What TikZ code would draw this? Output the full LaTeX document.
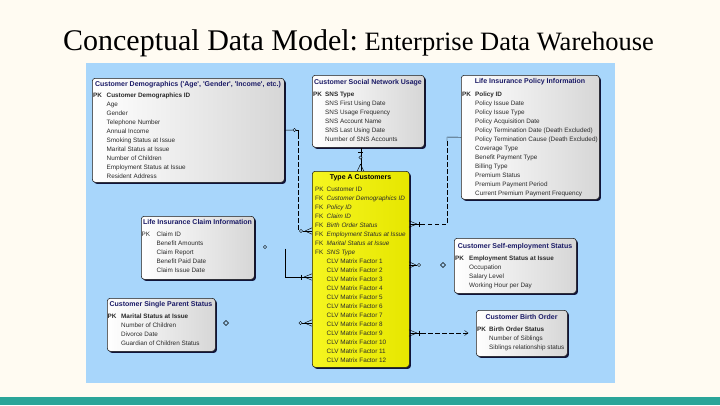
\documentclass[tikz,border=0pt]{standalone}
\usepackage{fontspec}
\setmainfont{Liberation Serif}
\newfontfamily\erfont{Liberation Sans}
\usetikzlibrary{shadows}
\definecolor{cream}{HTML}{FFFBF2}
\definecolor{panel}{HTML}{A8D6FB}
\definecolor{barteal}{HTML}{2AA599}
\definecolor{ttl}{HTML}{1A1A66}
\definecolor{bodyc}{HTML}{2A2A2A}
\definecolor{yelA}{HTML}{F6F620}
\definecolor{yelB}{HTML}{E6E600}
\begin{document}
\begin{tikzpicture}[x=1pt,y=-1pt,
 conn/.style={draw=black, line width=0.45pt},
 dsh/.style={dash pattern=on 4.5pt off 2.5pt},
 mk/.style={draw=black, line width=0.45pt, fill=panel},
 entity/.style={draw=black!90, line width=0.55pt, rounded corners=3pt, anchor=north west, inner sep=0pt,
   left color=white, right color=black!16,
   drop shadow={shadow xshift=1.6pt, shadow yshift=-1.6pt, fill=black!85!blue, opacity=0.9}},
 keyent/.style={entity, left color=yelA, right color=yelB},
 etitle/.style={anchor=base, inner sep=0pt, font=\erfont\bfseries\fontsize{7}{8}\selectfont, text=ttl},
 erows/.style={anchor=base west, inner sep=0pt, font=\erfont\fontsize{6.35}{9}\selectfont, text=bodyc, align=left}]
\useasboundingbox (0,0) rectangle (720,405);
\fill[cream] (0,0) rectangle (720,405);
\fill[barteal] (0,397) rectangle (720,405);
\fill[panel] (86,63) rectangle (615,383);
\node[anchor=base, inner sep=0pt] (title) at (358.5,50)
  {{\fontsize{30}{36}\selectfont Conceptual Data Model:}\fontsize{26.5}{32}\selectfont\ Enterprise Data Warehouse};

% ---------- entities ----------
\node[entity, minimum width=192pt, minimum height=104pt] (demo) at (92,78) {};
\node[etitle] (demo-t) at (188,86.5) {Customer Demographics (\textquotesingle Age\textquotesingle, \textquotesingle Gender\textquotesingle, \textquotesingle Income\textquotesingle, etc.)};
\node[erows] (demo-r) at (93,97) {\begin{tabular}[t]{@{}p{13.5pt}@{}l@{}}
\textbf{PK} & \textbf{Customer Demographics ID}\\
 & Age\\
 & Gender\\
 & Telephone Number\\
 & Annual Income\\
 & Smoking Status at Issue\\
 & Marital Status at Issue\\
 & Number of Children\\
 & Employment Status at Issue\\
 & Resident Address
\end{tabular}};

\node[entity, minimum width=112pt, minimum height=72pt] (sns) at (312,75) {};
\node[etitle] (sns-t) at (368,84.5) {Customer Social Network Usage};
\node[erows] (sns-r) at (313,96) {\begin{tabular}[t]{@{}p{12pt}@{}l@{}}
\textbf{PK} & \textbf{SNS Type}\\
 & SNS First Using Date\\
 & SNS Usage Frequency\\
 & SNS Account Name\\
 & SNS Last Using Date\\
 & Number of SNS Accounts
\end{tabular}};

\node[entity, minimum width=138pt, minimum height=124pt] (policy) at (461,75) {};
\node[etitle] (policy-t) at (530,83.5) {Life Insurance Policy Information};
\node[erows] (policy-r) at (462,96) {\begin{tabular}[t]{@{}p{13pt}@{}l@{}}
\textbf{PK} & \textbf{Policy ID}\\
 & Policy Issue Date\\
 & Policy Issue Type\\
 & Policy Acquisition Date\\
 & Policy Termination Date (Death Excluded)\\
 & Policy Termination Cause (Death Excluded)\\
 & Coverage Type\\
 & Benefit Payment Type\\
 & Billing Type\\
 & Premium Status\\
 & Premium Payment Period\\
 & Current Premium Payment Frequency
\end{tabular}};

\node[keyent, minimum width=97pt, minimum height=196pt] (typeA) at (312,171) {};
\node[etitle, text=black] (typeA-t) at (360.5,179.5) {Type A Customers};
\node[erows] (typeA-r) at (315,191) {\begin{tabular}[t]{@{}p{11.5pt}@{}l@{}}
PK & Customer ID\\
FK & \textit{Customer Demographics ID}\\
FK & \textit{Policy ID}\\
FK & \textit{Claim ID}\\
FK & \textit{Birth Order Status}\\
FK & \textit{Employment Status at Issue}\\
FK & \textit{Marital Status at Issue}\\
FK & \textit{SNS Type}\\
 & CLV Matrix Factor 1\\
 & CLV Matrix Factor 2\\
 & CLV Matrix Factor 3\\
 & CLV Matrix Factor 4\\
 & CLV Matrix Factor 5\\
 & CLV Matrix Factor 6\\
 & CLV Matrix Factor 7\\
 & CLV Matrix Factor 8\\
 & CLV Matrix Factor 9\\
 & CLV Matrix Factor 10\\
 & CLV Matrix Factor 11\\
 & CLV Matrix Factor 12
\end{tabular}};

\node[entity, minimum width=113pt, minimum height=63pt] (claim) at (141,216) {};
\node[etitle] (claim-t) at (197.5,224.5) {Life Insurance Claim Information};
\node[erows] (claim-r) at (141.5,236) {\begin{tabular}[t]{@{}p{15pt}@{}l@{}}
PK & Claim ID\\
 & Benefit Amounts\\
 & Claim Report\\
 & Benefit Paid Date\\
 & Claim Issue Date
\end{tabular}};

\node[entity, minimum width=122pt, minimum height=55pt] (selfemp) at (454,238) {};
\node[etitle] (selfemp-t) at (515,248.5) {Customer Self-employment Status};
\node[erows] (selfemp-r) at (455,260) {\begin{tabular}[t]{@{}p{14pt}@{}l@{}}
\textbf{PK} & \textbf{Employment Status at Issue}\\
 & Occupation\\
 & Salary Level\\
 & Working Hour per Day
\end{tabular}};

\node[entity, minimum width=108pt, minimum height=53pt] (single) at (107,298) {};
\node[etitle] (single-t) at (161,306.5) {Customer Single Parent Status};
\node[erows] (single-r) at (107.5,318) {\begin{tabular}[t]{@{}p{13.5pt}@{}l@{}}
\textbf{PK} & \textbf{Marital Status at Issue}\\
 & Number of Children\\
 & Divorce Date\\
 & Guardian of Children Status
\end{tabular}};

\node[entity, minimum width=91pt, minimum height=46pt] (birth) at (476,310) {};
\node[etitle] (birth-t) at (521.5,319.5) {Customer Birth Order};
\node[erows] (birth-r) at (477,331) {\begin{tabular}[t]{@{}p{12pt}@{}l@{}}
\textbf{PK} & \textbf{Birth Order Status}\\
 & Number of Siblings\\
 & Siblings relationship status
\end{tabular}};

% ---------- connectors ----------
% demographics -> type A
\coordinate (a1) at (298.5,130);
\coordinate (a2) at (298.5,231);
\draw[conn] (demo.east) -- (292.9,130);
\draw[mk] (294.5,130) circle[radius=1.6];
\draw[conn] (296.1,130) -- (a1) -- (298.5,134);
\draw[conn,dsh] (298.5,134) -- (a2);
\draw[mk] (301,231) circle[radius=1.6];
\draw[conn] (302.6,231) -- (typeA.west |- a2);
\draw[conn] (305,231) -- (312,227.8) (305,231) -- (312,234.2);

% social network -> type A
\draw[conn] (typeA.north |- sns.south) -- (typeA.north);
\draw[conn] (358,152.5) -- (363,152.5);
\draw[mk] (360.5,157.5) circle[radius=1.6];
\draw[conn] (360.5,164) -- (357.3,171) (360.5,164) -- (363.7,171);

% policy -> type A
\coordinate (c1) at (447,137);
\coordinate (c2) at (447,224);
\draw[conn] (policy.west) -- (c1) -- (447,141);
\draw[conn,dsh] (447,141) -- (c2) -- (421,224);
\draw[conn] (421,224) -- (typeA.east |- c2);
\draw[conn] (417,224) -- (409,220.8) (417,224) -- (409,227.2);
\draw[conn] (419.5,221.5) -- (419.5,226.5);

% claim -> type A
\draw[mk] (265,247) circle[radius=1.6];
\coordinate (d1) at (285,248.5);
\coordinate (d2) at (285,277);
\draw[conn] (d1) -- (d2) -- (typeA.west |- d2);
\draw[conn] (301,274.5) -- (301,279.5);
\draw[conn] (304,277) -- (312,273.8) (304,277) -- (312,280.2);

% self-employment -> type A (markers)
\draw[conn] (409,265) -- (417.4,265);
\draw[conn] (416,265) -- (409,261.8) (416,265) -- (409,268.2);
\draw[mk] (419,265) circle[radius=1.6];
\draw[mk] (443,262.5) -- (445.5,265) -- (443,267.5) -- (440.5,265) -- cycle;

% single parent -> type A (markers)
\draw[mk] (226,320.5) -- (228.5,323) -- (226,325.5) -- (223.5,323) -- cycle;
\draw[mk] (300.5,323) circle[radius=1.6];
\draw[conn] (302.1,323) -- (typeA.west |- 0,323);
\draw[conn] (304.5,323) -- (312,319.8) (304.5,323) -- (312,326.2);

% birth order -> type A
\coordinate (g1) at (468,333);
\draw[conn] (typeA.east |- g1) -- (421,333);
\draw[conn,dsh] (421,333) -- (g1);
\draw[conn] (417,333) -- (409,329.8) (417,333) -- (409,336.2);
\draw[conn] (419.5,330.5) -- (419.5,335.5);
\draw[conn] (464.5,330.5) -- (g1) -- (464.5,335.5);
\end{tikzpicture}
\end{document}
